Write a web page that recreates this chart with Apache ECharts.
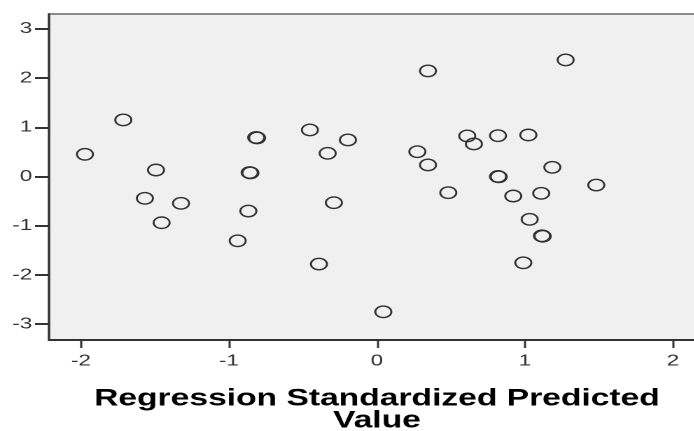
<!DOCTYPE html>
<html>
<head>
<meta charset="utf-8">
<script src="https://cdn.jsdelivr.net/npm/echarts@6/dist/echarts.min.js"></script>
<style>
  html, body { margin: 0; padding: 0; background: #ffffff; overflow: hidden; }
  #wrap { width: 694px; height: 431px; overflow: hidden; position: relative; }
  #chart { width: 496px; height: 431px; transform: scaleX(1.4); transform-origin: 0 0; }
</style>
</head>
<body>
<div id="wrap"><div id="chart"></div></div>
<script>
// Regression standardized predicted value (x) and residual (y)
const predicted = [
  -1.973, -1.714, -1.493, -1.568, -1.324, -1.455, -0.941, -0.869,
  -0.860, -0.855, -0.816, -0.810, -0.453, -0.333, -0.196, -0.291,
  -0.392, 0.043, 0.345, 0.273, 0.345, 0.482, 0.610, 0.655,
  0.818, 1.023, 1.185, 0.818, 0.823, 1.482, 0.921, 1.110,
  1.032, 1.115, 1.120, 0.989, 1.275
];
const residual = [
  0.451, 1.148, 0.132, -0.443, -0.545, -0.939, -1.305, -0.701,
  0.080, 0.072, 0.792, 0.784, 0.945, 0.471, 0.742, -0.532,
  -1.778, -2.748, 2.144, 0.504, 0.234, -0.329, 0.823, 0.661,
  0.829, 0.843, 0.187, 0.000, -0.006, -0.173, -0.396, -0.342,
  -0.870, -1.205, -1.213, -1.752, 2.368
];
const xTicks = [-2, -1, 0, 1, 2];
const yTicks = [-3, -2, -1, 0, 1, 2, 3];
const xTitle = 'Regression Standardized Predicted\nValue';

const points = predicted.map((x, i) => [x, residual[i]]);

const chart = echarts.init(document.getElementById('chart'), null, { renderer: 'canvas', devicePixelRatio: 2 });
chart.setOption({
  animation: false,
  backgroundColor: '#ffffff',
  grid: {
    left: 35, top: 14, width: 468.5, height: 326,
    outerBoundsMode: 'none', containLabel: false,
    show: true, backgroundColor: '#f0f0f0', borderColor: '#8a8a8a', borderWidth: 2
  },
  xAxis: {
    type: 'value', min: -2.216, max: 2.216,
    name: xTitle, nameLocation: 'middle', nameGap: 48,
    nameTextStyle: { fontFamily: 'Liberation Sans, Arial, sans-serif', fontWeight: 'bold', fontSize: 24, color: '#000', lineHeight: 22 },
    axisLine: { show: true, onZero: false, lineStyle: { color: '#333', width: 2 } },
    axisTick: { show: true, length: 8, customValues: xTicks, lineStyle: { color: '#333', width: 1.5 } },
    axisLabel: { customValues: xTicks, margin: 13, fontFamily: 'Liberation Sans, Arial, sans-serif', fontSize: 16, color: '#333' },
    splitLine: { show: false }
  },
  yAxis: {
    type: 'value', min: -3.32, max: 3.30,
    axisLine: { show: true, onZero: false, lineStyle: { color: '#333', width: 1.5 } },
    axisTick: { show: true, length: 10, customValues: yTicks, lineStyle: { color: '#333', width: 2 } },
    axisLabel: { customValues: yTicks, margin: 12, fontFamily: 'Liberation Sans, Arial, sans-serif', fontSize: 16, color: '#333' },
    splitLine: { show: false }
  },
  series: [{
    type: 'scatter',
    data: points,
    symbol: 'circle',
    symbolSize: 11.5,
    itemStyle: { color: 'rgba(0,0,0,0)', borderColor: '#333', borderWidth: 1.4, opacity: 1 }
  }]
});
</script>
</body>
</html>
